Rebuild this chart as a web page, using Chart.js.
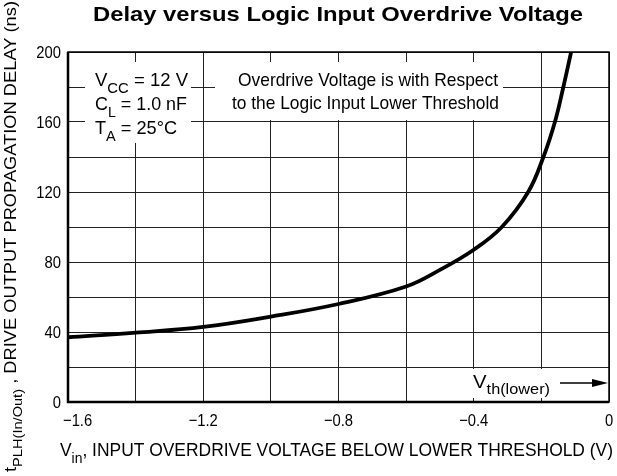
<!DOCTYPE html>
<html>
<head>
<meta charset="utf-8">
<script src="https://cdn.jsdelivr.net/npm/chart.js@4"></script>
<style>
  body { margin: 0; background: #fff; }
  canvas { display: block; }
</style>
</head>
<body>
<canvas id="grafico" width="617" height="476"></canvas>
<script>
// valores
var vin = [-1.6, -1.4, -1.2, -1.0, -0.8, -0.6, -0.5, -0.4, -0.317, -0.239, -0.194, -0.16, -0.135, -0.112];
var atraso = [37, 39.6, 42.9, 48.8, 56, 66, 75.5, 87, 100, 120, 140, 160, 180, 200];

var ticksX = [-1.6, -1.2, -0.8, -0.4, 0];
var rotulosX = ['\u22121.6', '\u22121.2', '\u22120.8', '\u22120.4', '0'];
var ticksY = [0, 40, 80, 120, 160, 200];

var FONTE = '"Liberation Sans", Arial, sans-serif';

function fonte(tam, negrito) {
    return (negrito ? 'bold ' : '') + tam + 'px ' + FONTE;
}

// runs = [[texto, subscrito?], ...]
function larguraRuns(ctx, runs, tam, negrito) {
    var w = 0;
    runs.forEach(function (r) {
        ctx.font = fonte(r[1] ? tam * 0.8 : tam, negrito);
        w += ctx.measureText(r[0]).width;
    });
    return w;
}

function desenhaRuns(ctx, runs, x, y, tam, aperto, negrito) {
    ctx.save();
    ctx.translate(x, y);
    ctx.scale(aperto, 1);
    var cx = 0;
    runs.forEach(function (r) {
        ctx.font = fonte(r[1] ? tam * 0.8 : tam, negrito);
        ctx.fillText(r[0], cx, r[1] ? tam * 0.35 : 0);
        cx += ctx.measureText(r[0]).width;
    });
    ctx.restore();
}

// encaixa o texto entre x0 e x1
function encaixa(ctx, runs, x0, x1, y, tam, negrito) {
    var w = larguraRuns(ctx, runs, tam, negrito);
    desenhaRuns(ctx, runs, x0, y, tam, (x1 - x0) / w, negrito);
}

var textos = {
    id: 'textos',
    beforeDatasetsDraw: function (chart) {
        var ctx = chart.ctx;
        ctx.save();
        ctx.fillStyle = '#fff';
        ctx.fillRect(85, 62, 106, 81);
        ctx.fillRect(215, 62, 288, 58);
        ctx.fillRect(465, 369, 141, 29);
        ctx.restore();
    },
    afterDraw: function (chart) {
        var ctx = chart.ctx;
        var a = chart.chartArea;
        var sx = chart.scales.x, sy = chart.scales.y;
        ctx.save();
        ctx.fillStyle = '#000';
        ctx.textBaseline = 'alphabetic';
        ctx.textAlign = 'left';

        // moldura
        ctx.strokeStyle = '#000';
        ctx.lineWidth = 1.5;
        ctx.strokeRect(a.left, a.top, a.right - a.left, a.bottom - a.top);
        ctx.lineWidth = 2.5;
        ctx.beginPath();
        ctx.moveTo(a.left, a.top);
        ctx.lineTo(a.left, a.bottom);
        ctx.lineTo(a.right, a.bottom);
        ctx.stroke();

        // titulo
        encaixa(ctx, [['Delay versus Logic Input Overdrive Voltage', false]], 93, 583, 21, 21, true);

        // rotulos dos eixos
        var aperto = 0.87;
        ticksY.forEach(function (v) {
            var t = String(v);
            ctx.font = fonte(17);
            var w = ctx.measureText(t).width * aperto;
            desenhaRuns(ctx, [[t, false]], 61 - w, sy.getPixelForValue(v) + 6, 17, aperto);
        });
        ticksX.forEach(function (v, i) {
            var t = rotulosX[i];
            ctx.font = fonte(17);
            var w = ctx.measureText(t).width * aperto;
            var x = Math.max(63, sx.getPixelForValue(v) - w / 2);
            desenhaRuns(ctx, [[t, false]], x, 426, 17, aperto);
        });

        encaixa(ctx, [['V', false], ['in', true], [', INPUT OVERDRIVE VOLTAGE BELOW LOWER THRESHOLD (V)', false]], 60, 613, 456, 19);

        ctx.save();
        ctx.translate(16, 472);
        ctx.rotate(-Math.PI / 2);
        encaixa(ctx, [['t', false], ['PLH(In/Out)', true], [' , DRIVE OUTPUT PROPAGATION DELAY (ns)', false]], 0, 471, 0, 17);
        ctx.restore();

        // anotacoes
        encaixa(ctx, [['V', false], ['CC', true], [' = 12 V', false]], 95, 188, 86, 19);
        encaixa(ctx, [['C', false], ['L', true], [' = 1.0 nF', false]], 95, 187, 110, 19);
        encaixa(ctx, [['T', false], ['A', true], [' = 25\u00b0C', false]], 95, 177, 134, 19);
        encaixa(ctx, [['Overdrive Voltage is with Respect', false]], 238, 498, 86, 19);
        encaixa(ctx, [['to the Logic Input Lower Threshold', false]], 232, 499, 109, 19);
        encaixa(ctx, [['V', false], ['th(lower)', true]], 473, 550, 388, 18);

        // seta
        ctx.lineWidth = 1.5;
        ctx.beginPath();
        ctx.moveTo(560, 383);
        ctx.lineTo(596, 383);
        ctx.stroke();
        ctx.beginPath();
        ctx.moveTo(608, 383);
        ctx.lineTo(592, 379);
        ctx.lineTo(592, 387);
        ctx.closePath();
        ctx.fill();
        ctx.restore();
    }
};

var pontos = vin.map(function (v, i) { return { x: v, y: atraso[i] }; });

var config = {
    type: 'scatter',
    data: {
        datasets: [{
            data: pontos,
            showLine: true,
            borderColor: '#000',
            borderWidth: 3.8,
            pointRadius: 0,
            tension: 0.4
        }]
    },
    options: {
        responsive: false,
        animation: false,
        devicePixelRatio: 1,
        layout: { padding: { left: 0, top: 52, right: 8, bottom: 0 } },
        plugins: {
            legend: { display: false },
            tooltip: { enabled: false }
        },
        scales: {
            x: {
                type: 'linear',
                min: -1.6,
                max: 0,
                ticks: { stepSize: 0.2, display: false },
                grid: { color: '#222', lineWidth: 1, drawTicks: false },
                border: { display: false },
                afterFit: function (s) { s.height = 74; }
            },
            y: {
                min: 0,
                max: 200,
                ticks: { stepSize: 20, display: false },
                grid: { color: '#222', lineWidth: 1, drawTicks: false },
                border: { display: false },
                afterFit: function (s) { s.width = 68; }
            }
        }
    },
    plugins: [textos]
};

var ctx = document.getElementById('grafico').getContext('2d');
var grafico = new Chart(ctx, config);
</script>
</body>
</html>
